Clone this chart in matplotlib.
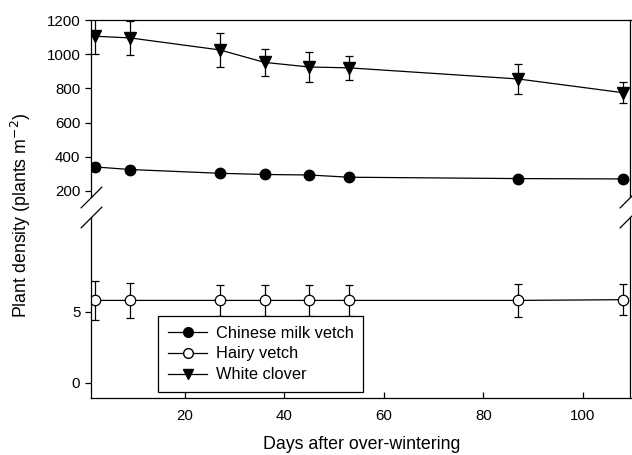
import numpy as np
import matplotlib
matplotlib.use("Agg")
import matplotlib.pyplot as plt
from matplotlib.lines import Line2D

plt.rcParams['font.family'] = ['Liberation Sans', 'DejaVu Sans']

# days after over-wintering
days = [2, 9, 27, 36, 45, 53, 87, 108]

# plant density (plants m-2)
milk_vetch = [340, 325, 303, 296, 293, 280, 272, 270]
milk_vetch_err = [25, 20, 15, 15, 15, 10, 12, 12]
hairy_vetch = [5.8, 5.8, 5.8, 5.8, 5.8, 5.8, 5.8, 5.85]
hairy_vetch_err = [1.4, 1.25, 1.08, 1.08, 1.08, 1.08, 1.15, 1.1]
white_clover = [1105, 1095, 1025, 952, 925, 920, 855, 775]
white_clover_err = [105, 100, 100, 78, 88, 70, 87, 63]

upper_ticks = [200, 400, 600, 800, 1000, 1200]
lower_ticks = [0, 5]
x_ticks = [20, 40, 60, 80, 100]

W, H = 632, 455
fig = plt.figure(figsize=(W / 100, H / 100), dpi=100)

def px_box(x0, y0, x1, y1):
    return [x0 / W, 1 - y1 / H, (x1 - x0) / W, (y1 - y0) / H]

ax_up = fig.add_axes(px_box(90.7, 20, 630.5, 196.7))
ax_lo = fig.add_axes(px_box(90.7, 216.7, 630.5, 398.3))

style = dict(color='black', lw=0.9, capsize=3.2, elinewidth=0.9, capthick=0.9)

ax_up.errorbar(days, white_clover, yerr=white_clover_err, marker='v', ms=8,
               mfc='black', mec='black', **style)
ax_up.errorbar(days, milk_vetch, yerr=milk_vetch_err, marker='o', ms=7.5,
               mfc='black', mec='black', **style)
ax_lo.errorbar(days, hairy_vetch, yerr=hairy_vetch_err, marker='o', ms=7.5,
               mfc='white', mec='black', mew=0.9, **style)

for ax in (ax_up, ax_lo):
    ax.set_xlim(1.05, 109.6)
    for s in ax.spines.values():
        s.set_linewidth(0.9)

ax_up.set_ylim(166, 1200)
ax_up.set_yticks(upper_ticks)
ax_up.spines['bottom'].set_visible(False)
ax_up.tick_params(axis='x', which='both', bottom=False, top=False, labelbottom=False)
ax_up.tick_params(axis='y', direction='out', length=4, width=0.9, labelsize=10.8)

ax_lo.set_ylim(-1.1, 11.7)
ax_lo.set_yticks(lower_ticks)
ax_lo.spines['top'].set_visible(False)
ax_lo.set_xticks(x_ticks)
ax_lo.tick_params(axis='x', direction='in', length=4, width=0.9, labelsize=10.8, pad=8)
ax_lo.tick_params(axis='y', direction='out', length=4, width=0.9, labelsize=10.8)

# break marks
slash = dict(marker=[(-1, -1), (1, 1)], markersize=15.5, linestyle='none',
             color='black', mec='black', mew=0.9, clip_on=False)
ax_up.plot([0, 1], [0, 0], transform=ax_up.transAxes, **slash)
ax_lo.plot([0, 1], [1, 1], transform=ax_lo.transAxes, **slash)

handles = [
    Line2D([], [], color='black', lw=0.9, marker='o', ms=7, mfc='black', mec='black'),
    Line2D([], [], color='black', lw=0.9, marker='o', ms=7, mfc='white', mec='black'),
    Line2D([], [], color='black', lw=0.9, marker='v', ms=7, mfc='black', mec='black'),
]
leg = ax_lo.legend(handles, ['Chinese milk vetch', 'Hairy vetch', 'White clover'],
                   loc='upper left', bbox_to_anchor=(158.3 / W, 1 - 315.7 / H),
                   bbox_transform=fig.transFigure, fontsize=11.8, frameon=True,
                   fancybox=False, framealpha=1, edgecolor='black',
                   handlelength=2.4, handletextpad=0.5, labelspacing=0.36,
                   borderpad=0.6, borderaxespad=0)
leg.get_frame().set_linewidth(0.9)

fig.text(362 / W, 1 - 449 / H, 'Days after over-wintering', ha='center',
         va='baseline', fontsize=12.8)
fig.text(21 / W, 1 - 215 / H, 'Plant density (plants m$^{-2}$)', rotation=90,
         ha='center', va='center', fontsize=12.8)

fig.savefig('out.png', dpi=100)
